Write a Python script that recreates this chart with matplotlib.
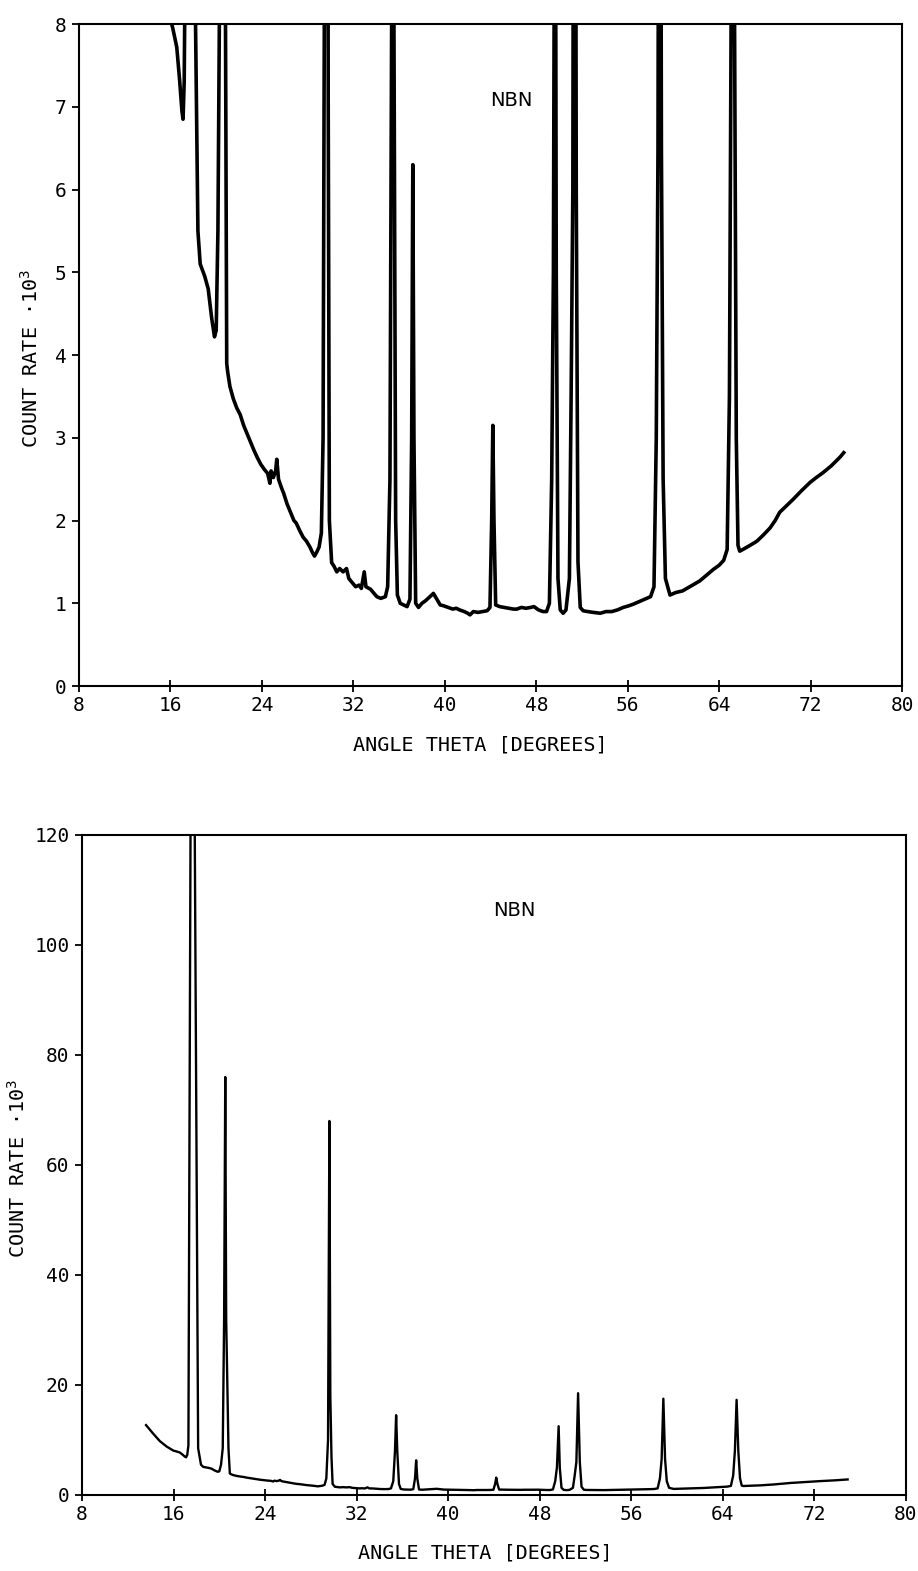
import numpy as np
import matplotlib
matplotlib.use('Agg')
import matplotlib.pyplot as plt

plt.rcParams['font.family'] = ['DejaVu Sans Mono']
plt.rcParams['mathtext.default'] = 'regular'

# diffraction scan, angle theta (deg) vs count rate (x 10^3)
theta = [13.6, 14.2, 14.8, 15.4, 16.0, 16.2, 16.55, 16.8, 17.0, 17.1, 17.2,
         17.3, 17.55, 17.75, 18.15, 18.4, 18.6, 19.0, 19.3, 19.6, 19.85,
         20.0, 20.15, 20.3, 20.42, 20.52, 20.6, 20.8, 20.92,
         21.0, 21.2, 21.5, 21.8, 22.1, 22.4, 22.7, 23.0, 23.3, 23.6, 23.9,
         24.2, 24.5, 24.7, 24.8, 25.0, 25.2, 25.3, 25.45, 25.7, 25.9, 26.2,
         26.5, 26.8, 27.0, 27.3, 27.6, 27.9, 28.2, 28.4, 28.6, 28.8, 29.0,
         29.2, 29.35, 29.5, 29.62, 29.7, 29.8, 29.9, 30.1,
         30.3, 30.55, 30.8, 31.1, 31.4, 31.6, 31.9, 32.2, 32.5, 32.7, 32.95,
         33.1, 33.5, 33.8, 34.05, 34.4, 34.8, 35.0, 35.2, 35.35, 35.45,
         35.55, 35.7, 35.85, 36.1, 36.4, 36.7, 36.95, 37.1, 37.2, 37.3,
         37.45, 37.7, 38.0, 38.3, 38.7, 39.0, 39.3, 39.6, 39.9, 40.3, 40.7,
         41.0, 41.3, 41.7, 42.0, 42.2, 42.5, 42.9, 43.3, 43.7, 43.95, 44.1,
         44.2, 44.3, 44.45, 44.8, 45.2, 45.6, 46.0, 46.3, 46.7, 47.1, 47.5,
         47.8, 48.2, 48.6, 48.9, 49.15, 49.35, 49.5, 49.65, 49.75, 49.9,
         50.1, 50.35, 50.6, 50.9, 51.05, 51.2, 51.35, 51.5, 51.65, 51.85,
         52.1, 52.5, 53.0, 53.6, 54.1, 54.6, 55.1, 55.6, 56.1, 56.5, 57.0,
         57.5, 58.0, 58.3, 58.5, 58.65, 58.8, 58.95, 59.1, 59.3, 59.7, 60.2,
         60.8, 61.3, 61.8, 62.3, 62.9, 63.5, 64.0, 64.4, 64.7, 64.9, 65.05,
         65.2, 65.35, 65.5, 65.65, 65.8, 66.2, 66.7, 67.3, 67.9, 68.45, 68.9,
         69.3, 69.9, 70.5, 71.2, 71.95, 72.5, 73.1, 73.8, 74.6, 74.9]
counts = [12.7, 11.2, 9.8, 8.8, 8.05, 7.95, 7.72, 7.32, 6.95, 6.85, 7.3,
          9.0, 160, 160, 8.5, 5.5, 5.1, 4.95, 4.8, 4.45, 4.22,
          4.3, 5.5, 8.5, 32, 76, 32, 8.5, 3.9,
          3.8, 3.62, 3.47, 3.36, 3.28, 3.15, 3.05, 2.95, 2.85, 2.76, 2.68,
          2.62, 2.57, 2.45, 2.6, 2.52, 2.6, 2.74, 2.5, 2.4, 2.33, 2.2,
          2.1, 2.0, 1.97, 1.88, 1.8, 1.75, 1.68, 1.62, 1.57, 1.62, 1.68,
          1.85, 3.0, 10, 68, 18, 7, 2.0, 1.49,
          1.45, 1.38, 1.42, 1.38, 1.42, 1.3, 1.25, 1.2, 1.22, 1.18, 1.38,
          1.2, 1.17, 1.12, 1.08, 1.06, 1.08, 1.2, 2.5, 8, 14.5,
          8, 2.0, 1.1, 1.0, 0.98, 0.96, 1.05, 3.0, 6.3, 3.0,
          1.0, 0.95, 1.0, 1.03, 1.08, 1.12, 1.05, 0.98, 0.97, 0.95, 0.93,
          0.94, 0.92, 0.9, 0.88, 0.86, 0.9, 0.89, 0.9, 0.91, 0.95, 2.0,
          3.15, 2.0, 0.98, 0.96, 0.95, 0.94, 0.93, 0.93, 0.95, 0.94, 0.95,
          0.96, 0.92, 0.9, 0.9, 1.0, 2.5, 5.0, 12.5, 5.0, 1.3,
          0.92, 0.88, 0.92, 1.3, 3.5, 6.0, 18.5, 6.0, 1.5, 0.95,
          0.91, 0.9, 0.89, 0.88, 0.9, 0.9, 0.92, 0.95, 0.97, 0.99, 1.02,
          1.05, 1.08, 1.2, 3.0, 6.5, 17.5, 6.5, 2.5, 1.3, 1.1, 1.13,
          1.15, 1.19, 1.23, 1.27, 1.34, 1.41, 1.46, 1.52, 1.65, 3.5, 8,
          17.3, 8, 3.0, 1.7, 1.63, 1.66, 1.7, 1.75, 1.83, 1.91, 2.0,
          2.1, 2.18, 2.26, 2.36, 2.46, 2.52, 2.58, 2.66, 2.77, 2.82]

x_ticks = [8, 16, 24, 32, 40, 48, 56, 64, 72, 80]
top_y_ticks = [0, 1, 2, 3, 4, 5, 6, 7, 8]
bottom_y_ticks = [0, 20, 40, 60, 80, 100, 120]

fig = plt.figure(figsize=(9.18, 15.71), dpi=100)
ax1 = fig.add_axes([0.0861, 0.5633, 0.8965, 0.4214])
ax2 = fig.add_axes([0.0893, 0.0484, 0.8976, 0.4201])


def style(ax, yticks, lw, ylab_x, xlab_x):
    ax.plot(theta, counts, color='black', lw=lw)
    ax.set_xlim(8, 80)
    ax.set_ylim(yticks[0], yticks[-1])
    ax.set_xticks(x_ticks)
    ax.set_yticks(yticks)
    for s in ax.spines.values():
        s.set_linewidth(1.5)
    ax.tick_params(axis='x', direction='inout', length=9, width=1.3,
                   labelsize=14, pad=3)
    ax.tick_params(axis='y', direction='out', length=5, width=1.3,
                   labelsize=14, pad=4)
    ax.set_xlabel('ANGLE THETA [DEGREES]', fontsize=14.5)
    ax.xaxis.set_label_coords(xlab_x, -0.074)
    ax.set_ylabel(r'COUNT RATE $\cdot 10^{3}$', fontsize=14.5)
    ax.yaxis.set_label_coords(ylab_x, 0.495)
    ax.text(0.525, 0.885, 'NBN', transform=ax.transAxes, fontsize=14,
            family='DejaVu Sans', ha='center', va='center')


style(ax1, top_y_ticks, 2.6, -0.045, 0.488)
style(ax2, bottom_y_ticks, 1.7, -0.064, 0.489)

plt.savefig('out.png', dpi=100)
